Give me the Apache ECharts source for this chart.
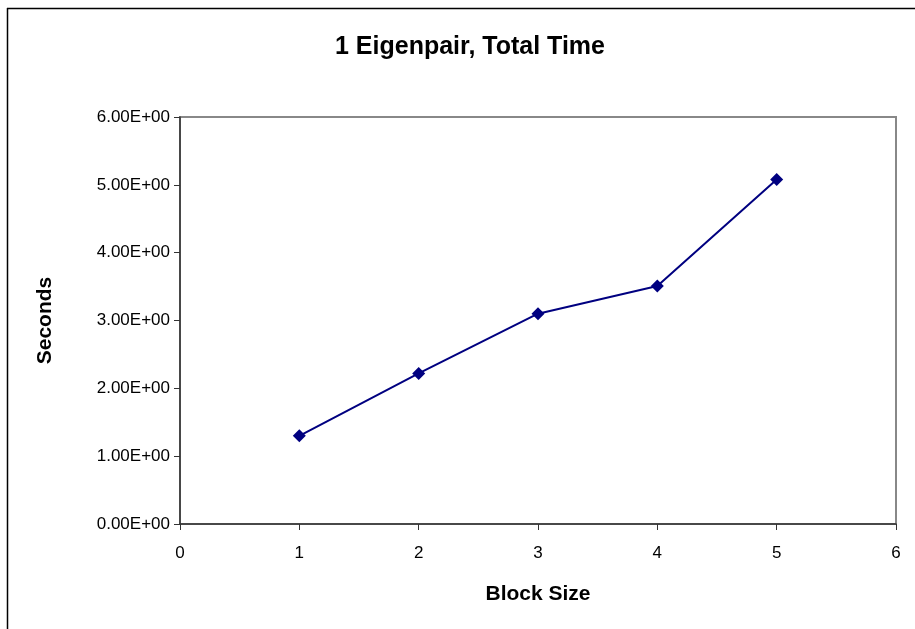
<!DOCTYPE html>
<html><head><meta charset="utf-8">
<script src="https://cdn.jsdelivr.net/npm/echarts@6/dist/echarts.min.js"></script>
<style>html,body{margin:0;padding:0;background:#fff}#c{width:915px;height:629px}</style>
</head><body><div id="c"></div>
<script>
const blockSizes = [1, 2, 3, 4, 5];
const seconds = [1.30, 2.22, 3.10, 3.51, 5.08];
const titleText = '1 Eigenpair, Total Time';
const xName = 'Block Size';
const yName = 'Seconds';

const chart = echarts.init(document.getElementById('c'), null, {renderer: 'canvas'});
const F = 'Liberation Sans, Arial, sans-serif';
chart.setOption({
  animation: false,
  backgroundColor: '#fff',
  title: {text: titleText, left: 465, top: 30, textAlign: 'center',
    textStyle: {fontFamily: F, fontSize: 25, fontWeight: 'bold', color: '#000'}},
  graphic: [
    {type: 'line', shape: {x1: 7, y1: 8.5, x2: 915, y2: 8.5}, style: {stroke: '#000', lineWidth: 1.5}},
    {type: 'line', shape: {x1: 7.5, y1: 8, x2: 7.5, y2: 629}, style: {stroke: '#000', lineWidth: 1.5}}
  ],
  grid: {left: 180, top: 117, right: 19, bottom: 105, show: true, borderColor: '#888', borderWidth: 2, containLabel: false},
  xAxis: {type: 'value', min: 0, max: 6, interval: 1,
    name: xName, nameLocation: 'middle', nameGap: 60,
    nameTextStyle: {fontFamily: F, fontSize: 21, fontWeight: 'bold', color: '#000'},
    axisLine: {show: true, onZero: false, lineStyle: {color: '#333', width: 1.5}},
    axisTick: {show: true, length: 6, lineStyle: {color: '#333'}},
    axisLabel: {fontFamily: F, fontSize: 17, color: '#000', margin: 21},
    splitLine: {show: false}},
  yAxis: {type: 'value', min: 0, max: 6, interval: 1,
    name: yName, nameLocation: 'middle', nameGap: 124, nameRotate: 90,
    nameTextStyle: {fontFamily: F, fontSize: 21, fontWeight: 'bold', color: '#000'},
    axisLine: {show: true, onZero: false, lineStyle: {color: '#333', width: 1.5}},
    axisTick: {show: true, length: 6, lineStyle: {color: '#333'}},
    axisLabel: {fontFamily: F, fontSize: 17, color: '#000', margin: 10,
      formatter: v => v.toFixed(2) + 'E+00'},
    splitLine: {show: false}},
  series: [{type: 'line', data: blockSizes.map((b, i) => [b, seconds[i]]),
    lineStyle: {color: '#000080', width: 2},
    itemStyle: {color: '#000080'},
    symbol: 'diamond', symbolSize: 13}]
});
</script></body></html>
